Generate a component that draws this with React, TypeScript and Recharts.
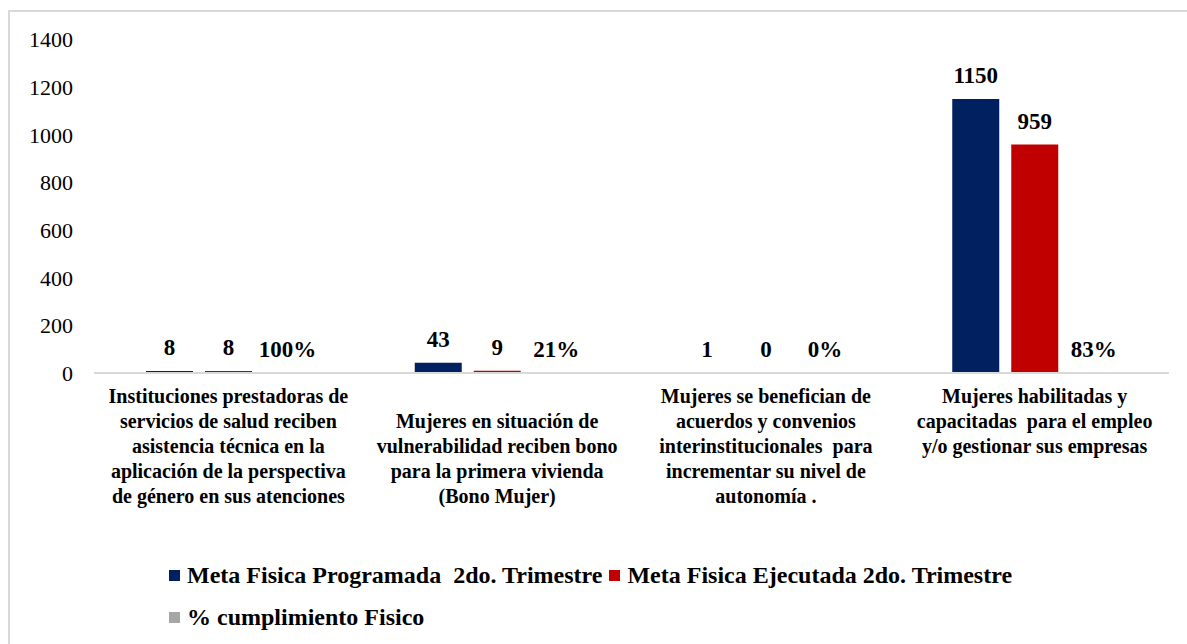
import { BarChart, Bar, XAxis, YAxis, LabelList } from 'recharts';

// Categorías (líneas tal como aparecen en el eje)
const categorias = [
  ['Instituciones prestadoras de', 'servicios de salud reciben', 'asistencia técnica en la', 'aplicación de la perspectiva', 'de género en sus atenciones'],
  ['', 'Mujeres en situación de', 'vulnerabilidad reciben bono', 'para la primera vivienda', '(Bono Mujer)'],
  ['Mujeres se benefician de', 'acuerdos y convenios', 'interinstitucionales  para', 'incrementar su nivel de', 'autonomía .'],
  ['Mujeres habilitadas y', 'capacitadas  para el empleo', 'y/o gestionar sus empresas'],
];

const programada = [8, 43, 1, 1150];
const ejecutada = [8, 9, 0, 959];
const cumplimiento = [1, 0.21, 0, 0.83];

const yTicks = [0, 200, 400, 600, 800, 1000, 1200, 1400];

const series = [
  { key: 'programada', name: 'Meta Fisica Programada  2do. Trimestre', color: '#002060' },
  { key: 'ejecutada', name: 'Meta Fisica Ejecutada 2do. Trimestre', color: '#C00000' },
  { key: 'cumplimiento', name: '% cumplimiento Fisico', color: '#A6A6A6' },
];

const data = categorias.map((c, i) => ({
  cat: i,
  programada: programada[i],
  ejecutada: ejecutada[i],
  cumplimiento: cumplimiento[i],
}));

const FONT = "'Liberation Serif', 'DejaVu Serif', serif";

const CategoryTick = (props: any) => {
  const { x, y, payload } = props;
  const lines = categorias[payload.value] || [];
  return (
    <text x={x} y={y} textAnchor="middle" style={{ fontFamily: FONT }} fontSize={20} fontWeight="bold" fill="#000">
      {lines.map((l, i) =>
        l ? (
          <tspan key={i} x={x} y={y + 30 + i * 25} style={{ whiteSpace: 'pre' }}>
            {l}
          </tspan>
        ) : null
      )}
    </text>
  );
};

export default function App() {
  return (
    <div
      style={{
        position: 'absolute',
        left: 8,
        top: 10,
        width: 1179,
        height: 634,
        borderLeft: '2px solid #d9d9d9',
        borderTop: '2px solid #d9d9d9',
        boxSizing: 'border-box',
        fontFamily: FONT,
        background: '#fff',
      }}
    >
      <BarChart
        width={1177}
        height={632}
        data={data}
        margin={{ top: 27.5, right: 18, left: 0, bottom: 0 }}
        barGap={12}
        barSize={47}
        style={{ fontFamily: FONT }}
      >
        <XAxis
          dataKey="cat"
          height={271}
          tickLine={false}
          tickSize={0}
          tickMargin={0}
          axisLine={{ stroke: '#d9d9d9', strokeWidth: 2 }}
          tick={<CategoryTick />}
          interval={0}
        />
        <YAxis
          width={84}
          domain={[0, 1400]}
          ticks={yTicks}
          axisLine={false}
          tickLine={false}
          tickSize={0}
          tickMargin={21}
          tick={{ fill: '#000', fontSize: 22, style: { fontFamily: FONT } }}
        />
        {series.map((s) => (
          <Bar key={s.key} dataKey={s.key} name={s.name} fill={s.color} minPointSize={0.01} isAnimationActive={false}>
            <LabelList
              dataKey={s.key}
              position="top"
              offset={16}
              fill="#000"
              fontSize={23}
              fontWeight="bold"
              style={{ fontFamily: FONT }}
              formatter={(v: any) => (s.key === 'cumplimiento' ? `${Math.round(Number(v) * 100)}%` : String(v))}
            />
          </Bar>
        ))}
      </BarChart>
      <div
        style={{
          position: 'absolute',
          left: 159,
          top: 542,
          width: 900,
          display: 'flex',
          flexWrap: 'wrap',
          lineHeight: '42px',
          fontSize: 24,
          fontWeight: 'bold',
          color: '#000',
        }}
      >
        {series.map((s) => (
          <div key={s.key} style={{ display: 'flex', alignItems: 'center', marginRight: 7, height: 42 }}>
            <span style={{ width: 11, height: 11, background: s.color, marginRight: 7, display: 'inline-block' }} />
            <span style={{ whiteSpace: 'pre' }}>{s.name}</span>
          </div>
        ))}
      </div>
    </div>
  );
}
